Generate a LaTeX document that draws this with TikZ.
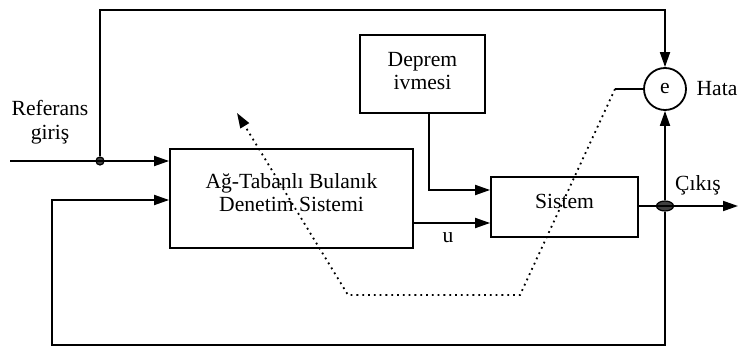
\documentclass[tikz,border=0pt]{standalone}
\usepackage{fontspec}
\setmainfont{Liberation Serif}
\usetikzlibrary{arrows.meta,calc,shapes.geometric}
\begin{document}
\begin{tikzpicture}[x=0.5pt, y=-0.5pt, line width=0.9pt,
  >={Triangle[length=7.5pt,width=5pt]},
  block/.style={draw, inner sep=0pt},
  lbl/.style={align=center, inner sep=0pt, font=\fontsize{10.8}{11.8}\selectfont},
  joint/.style={draw, fill=black!75, line width=0.6pt}]
\useasboundingbox (0,0) rectangle (738,347);

% Draw the blocks
\node[block, minimum width=121.5pt, minimum height=49.5pt] (ctrl) at (291.5,198.5) {};
\node[block, minimum width=62.5pt, minimum height=39pt] (deprem) at (422.5,74) {};
\node[block, minimum width=73.5pt, minimum height=30pt] (sys) at (564.5,207) {};
\node[block, circle, minimum size=21pt, font=\fontsize{10.8}{11.8}\selectfont] (err) at (665,89) {e};

% Texts in the blocks
\node[lbl] (ctrltxt) at ($(ctrl)+(0,-6)$) {A\u{g}-Tabanl\i{} Bulan\i k\\Denetim Sistemi};
\node[lbl] (depremtxt) at ($(deprem)+(0,-3)$) {Deprem\\ivmesi};
\node[lbl] (systxt) at ($(sys)+(0,-6)$) {Sistem};

% Labels
\node[lbl] (ref) at (50,122) {Referans\\giri\c{s}};
\node[lbl] (hata) at (717,89) {Hata};
\node[lbl] (cikis) at (698,185) {\c{C}\i k\i\c{s}};
\node[lbl] (u) at (448,238) {u};

% Junctions and corners
\coordinate (in) at (10,161);
\coordinate (topL) at (100,10);
\coordinate (fbL) at (52,200);
\coordinate (outEnd) at (738,206);
\coordinate (tune) at (615,89);
\node[joint, circle, minimum size=4pt, inner sep=0pt] (refdot) at (100,161) {};
\node[joint, ellipse, minimum width=8.5pt, minimum height=5pt, inner sep=0pt] (outdot) at (665,206) {};

% Signal lines
\draw[->] (in) -- (ctrl.west |- in);
\draw[->] (refdot) -- (topL) -| (err.north);
\draw[->] ([xshift=3.25pt]deprem.south) |- ([yshift=8.5pt]sys.west);
\draw[->] ([yshift=-12.25pt]ctrl.east) -- ([yshift=-12.25pt]ctrl.east -| sys.west);
\draw[->] (sys.east |- outEnd) -- (outEnd);
\draw[->] (outdot) -- (err.south);
\draw[->] (outdot) -- (665,345) -| (fbL) -- (ctrl.west |- fbL);

% Tuning path
\draw (err.west) -- (tune);
\draw[->, dotted] (tune) -- (520,295) -- (348,295) -- (237,113);
\end{tikzpicture}
\end{document}
